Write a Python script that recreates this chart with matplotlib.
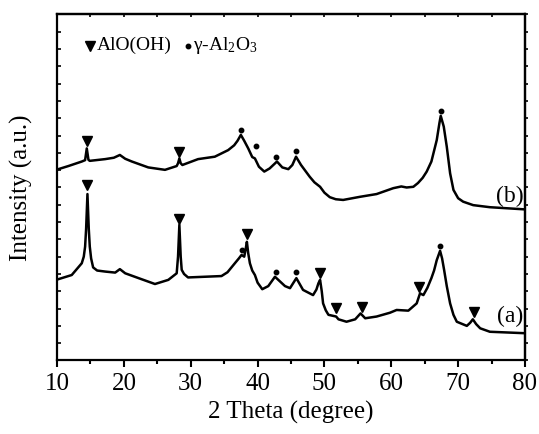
import matplotlib
matplotlib.use("Agg")
import matplotlib.pyplot as plt

plt.rcParams['font.family'] = ['Liberation Serif', 'DejaVu Serif']
plt.rcParams['mathtext.fontset'] = 'custom'
plt.rcParams['mathtext.rm'] = 'Liberation Serif'
plt.rcParams['mathtext.it'] = 'Liberation Serif:italic'

# sample (b)
theta_b = [10.2, 11.7, 13.7, 14.2, 14.45, 14.7, 14.9, 17.2, 18.5, 19.4, 20.2, 21.2,
           23.65, 26.15, 27.9, 28.1, 28.3, 28.5, 28.75, 31.1, 33.6, 35.6, 36.5, 37.0,
           37.5, 38.0, 38.6, 39.2, 39.6, 40.2, 41.0, 41.8, 42.9, 43.7, 44.6, 45.2,
           45.75, 46.5, 47.8, 48.5, 49.35, 50.0, 50.8, 51.7, 52.8, 55.3, 57.8, 60.3,
           61.5, 62.3, 63.3, 64.0, 64.7, 65.3, 66.0, 66.8, 67.2, 67.4, 67.85, 68.3,
           68.8, 69.3, 70.0, 70.75, 72.25, 74.75, 79.75]
int_b = [55.3, 56.2, 57.5, 57.9, 61.3, 58.0, 57.7, 58.2, 58.6, 59.4, 58.3, 57.5,
         55.8, 55.1, 56.2, 57.0, 58.4, 57.0, 56.5, 58.2, 58.9, 60.8, 62.2, 63.5,
         65.2, 63.5, 61.3, 58.8, 58.4, 56.0, 54.6, 55.5, 57.5, 55.8, 55.3, 56.5,
         58.9, 56.5, 53.1, 51.5, 50.2, 48.5, 47.2, 46.6, 46.4, 47.3, 48.1, 49.8,
         50.3, 50.0, 50.2, 51.3, 52.8, 54.6, 57.5, 63.7, 68.6, 70.7, 67.6, 61.8,
         54.1, 49.3, 46.9, 45.9, 44.9, 44.3, 43.7]

# sample (a)
theta_a = [10.2, 12.2, 13.7, 14.0, 14.2, 14.35, 14.55, 14.75, 14.9, 15.1, 15.4, 16.0,
           17.2, 18.7, 19.4, 20.2, 22.2, 24.65, 26.65, 27.9, 28.1, 28.3, 28.5, 28.65,
           29.0, 29.6, 32.1, 34.6, 35.5, 36.6, 37.2, 37.6, 38.0, 38.2, 38.4, 38.6,
           38.85, 39.2, 39.6, 40.0, 40.7, 41.6, 42.6, 44.1, 44.85, 45.8, 46.8, 48.3,
           48.8, 49.1, 49.35, 49.6, 49.8, 50.2, 50.6, 51.75, 52.1, 53.3, 54.6, 55.4,
           56.1, 57.8, 59.8, 60.8, 62.55, 63.8, 64.3, 64.8, 65.4, 66.0, 66.4, 66.8,
           67.3, 67.6, 67.9, 68.3, 68.8, 69.3, 69.8, 71.3, 71.8, 72.2, 72.7, 73.3,
           74.75, 79.75]
int_a = [23.5, 24.7, 28.1, 30.0, 32.9, 38.0, 48.1, 38.0, 32.9, 29.5, 26.9, 26.0,
         25.7, 25.4, 26.4, 25.2, 23.8, 22.1, 23.3, 25.2, 30.0, 39.2, 30.0, 26.2,
         25.0, 24.0, 24.2, 24.4, 25.5, 28.1, 29.5, 30.5, 30.0, 32.0, 34.3, 31.0,
         28.1, 26.0, 24.7, 22.5, 20.6, 21.5, 24.2, 21.5, 20.9, 23.8, 20.4, 18.9,
         20.5, 22.3, 23.3, 20.0, 16.5, 14.5, 13.2, 12.7, 11.9, 11.2, 11.9, 13.6,
         12.2, 12.7, 13.8, 14.6, 14.4, 16.5, 19.4, 18.9, 21.0, 23.8, 26.0, 29.0,
         31.7, 29.5, 26.2, 21.5, 16.5, 13.2, 11.2, 10.0, 10.9, 11.9, 10.5, 9.3,
         8.3, 7.9]

# phase markers
boeh_x = [14.45, 28.3, 14.55, 28.3, 38.4, 49.4, 51.8, 55.6, 64.2, 72.3]
boeh_y = [63.5, 60.3, 50.7, 40.8, 36.6, 25.2, 15.1, 15.5, 21.3, 14.1]
gam_x = [37.5, 39.8, 42.8, 45.8, 67.4, 37.6, 42.7, 45.8, 67.3]
gam_y = [66.5, 62.1, 58.7, 60.5, 72.2, 31.9, 25.5, 25.7, 33.1]

fig = plt.figure(figsize=(5.39, 4.34), dpi=100)
ax = fig.add_axes([0.1058, 0.1694, 0.8682, 0.7972])

ax.plot(theta_b, int_b, c='black', lw=1.8)
ax.plot(theta_a, int_a, c='black', lw=1.8)
ax.plot(boeh_x, boeh_y, 'v', c='black', ms=6.5, ls='none')
ax.plot(gam_x, gam_y, 'o', c='black', ms=3.2, ls='none')

# legend drawn as text like the original
ax.plot([15.0], [91.0], 'v', c='black', ms=6.5)
ax.text(15.9, 91.0, 'AlO(OH)', fontsize=14, va='center', ha='left')
ax.plot([29.6], [91.0], 'o', c='black', ms=3.2)
ax.text(30.4, 91.0, r'γ-Al$_2$O$_3$', fontsize=14, va='center', ha='left')

ax.text(79.8, 47.5, '(b)', fontsize=17, ha='right', va='center')
ax.text(79.8, 12.6, '(a)', fontsize=17, ha='right', va='center')

ax.set_xlim(10, 80)
ax.set_ylim(0, 100)
ax.set_xticks(range(10, 81, 10))
ax.set_xticks(range(15, 80, 10), minor=True)
ax.set_yticks(range(0, 101, 5))
ax.tick_params(axis='x', which='major', direction='out', length=5, width=1.5,
               labelsize=18, pad=4)
ax.tick_params(axis='x', which='minor', direction='out', length=3, width=1.5)
ax.tick_params(axis='y', direction='in', length=3, width=1.2, labelleft=False)

top = ax.secondary_xaxis('top')
top.set_xticks(range(10, 81, 5))
top.tick_params(direction='in', length=2, width=1.2, labeltop=False)
right = ax.secondary_yaxis('right')
right.set_yticks(range(0, 101, 5))
right.tick_params(direction='out', length=2.5, width=1.2, labelright=False)
for a in (ax, top, right):
    for s in a.spines.values():
        s.set_linewidth(1.6)

ax.set_xlabel('2 Theta (degree)', fontsize=18, labelpad=4)
ax.set_ylabel('Intensity (a.u.)', fontsize=18, labelpad=17)

fig.savefig('out.png', dpi=100)
